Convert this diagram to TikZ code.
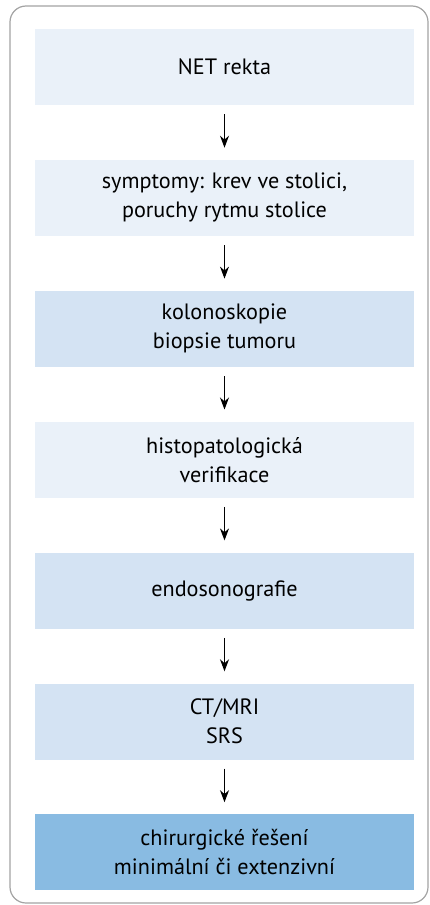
\documentclass[tikz,border=0pt]{standalone}
\usepackage{fontspec}
\setmainfont{PT Sans}
\usepackage{tikz}
\usetikzlibrary{arrows.meta, positioning}
\definecolor{steplight}{HTML}{EAF1F9}
\definecolor{stepmid}{HTML}{D4E3F3}
\definecolor{stepdark}{HTML}{89BBE2}
\definecolor{framegray}{HTML}{A3A3A3}

\begin{document}
\begin{tikzpicture}[
    x=1pt, y=1pt,
    cell/.style={rectangle, draw=none, fill=#1, minimum width=379pt,
                 minimum height=76pt, inner sep=0pt, align=center,
                 font=\fontsize{22.2}{29}\selectfont},
    arr/.style={-{Stealth[length=12pt, width=9pt]}, line width=1pt,
                shorten <=9pt, shorten >=12pt},
    node distance=54.5pt,
]
\useasboundingbox (0,0) rectangle (429,-905);
\draw[framegray, line width=1.2pt, rounded corners=16pt]
  (10,-6) rectangle (428,-903);

\node[cell=steplight] (net) at (224.5,-67) {NET rekta};
\node[cell=steplight, below=of net] (sym)
  {symptomy: krev ve stolici,\\poruchy rytmu stolice};
\node[cell=stepmid, below=of sym] (kolo)
  {kolonoskopie\\biopsie tumoru};
\node[cell=steplight, below=of kolo] (histo)
  {histopatologická\\verifikace};
\node[cell=stepmid, below=of histo] (endo) {endosonografie};
\node[cell=stepmid, below=of endo] (ct) {CT/MRI\\SRS};
\node[cell=stepdark, below=of ct] (chir)
  {chirurgické řešení\\minimální či extenzivní};

\draw[arr] (net) -- (sym);
\draw[arr] (sym) -- (kolo);
\draw[arr] (kolo) -- (histo);
\draw[arr] (histo) -- (endo);
\draw[arr] (endo) -- (ct);
\draw[arr] (ct) -- (chir);
\end{tikzpicture}
\end{document}
